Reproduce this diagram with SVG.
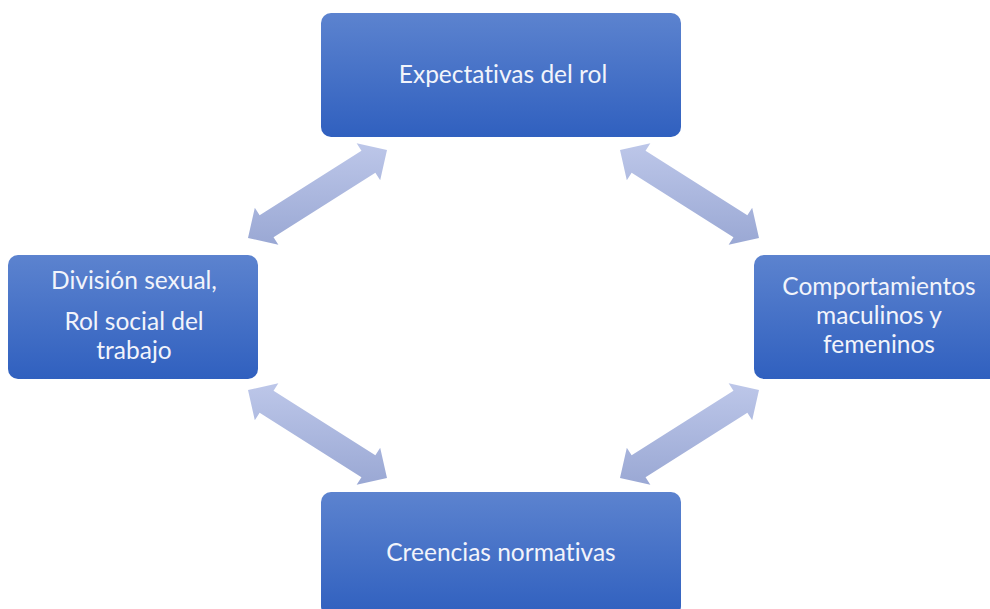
<svg xmlns="http://www.w3.org/2000/svg" width="990" height="609" viewBox="0 0 990 609">
<defs>
<linearGradient id="boxg" x1="0" y1="0" x2="0" y2="1">
<stop offset="0" stop-color="#5c83cf"/>
<stop offset="1" stop-color="#3060bf"/>
</linearGradient>
<linearGradient id="arrg" x1="0" y1="0" x2="0" y2="1">
<stop offset="0" stop-color="#bdc7e9"/>
<stop offset="1" stop-color="#9aa8d4"/>
</linearGradient>
<style>
.box{fill:url(#boxg);}
.arr{fill:url(#arrg);}
.t{font-family:Lato,"Liberation Sans",sans-serif;font-size:24.5px;fill:#f2f4fb;text-anchor:middle;font-variant-ligatures:none;}
</style>
</defs>
<rect width="990" height="609" fill="#ffffff"/>
<g id="connectors">
<polygon class="arr" points="248,238 278.36,244.82 273.55,237.22 375.37,172.76 380.18,180.36 387,150 356.64,143.18 361.45,150.78 259.63,215.24 254.82,207.64"/>
<polygon class="arr" points="759,238 728.64,244.82 733.45,237.22 631.63,172.76 626.82,180.36 620,150 650.36,143.18 645.55,150.78 747.37,215.24 752.18,207.64"/>
<polygon class="arr" points="248,390 278.36,383.18 273.55,390.78 375.37,455.24 380.18,447.64 387,478 356.64,484.82 361.45,477.22 259.63,412.76 254.82,420.36"/>
<polygon class="arr" points="759,390 728.64,383.18 733.45,390.78 631.63,455.24 626.82,447.64 620,478 650.36,484.82 645.55,477.22 747.37,412.76 752.18,420.36"/>
</g>
<g id="node-expectativas">
<rect class="box" x="321" y="13" width="360" height="124" rx="10"/>
<text class="t" x="503" y="83">Expectativas del rol</text>
</g>
<g id="node-division">
<rect class="box" x="8" y="255" width="250" height="124" rx="10"/>
<text class="t" x="134" y="289">División sexual,</text>
<text class="t" x="134" y="330">Rol social del</text>
<text class="t" x="134" y="359">trabajo</text>
</g>
<g id="node-comportamientos">
<rect class="box" x="754" y="255" width="250" height="124" rx="10"/>
<text class="t" x="879" y="295">Comportamientos</text>
<text class="t" x="879" y="324">maculinos y</text>
<text class="t" x="879" y="353">femeninos</text>
</g>
<g id="node-creencias">
<rect class="box" x="321" y="492" width="360" height="124" rx="10"/>
<text class="t" x="501" y="561">Creencias normativas</text>
</g>
</svg>
